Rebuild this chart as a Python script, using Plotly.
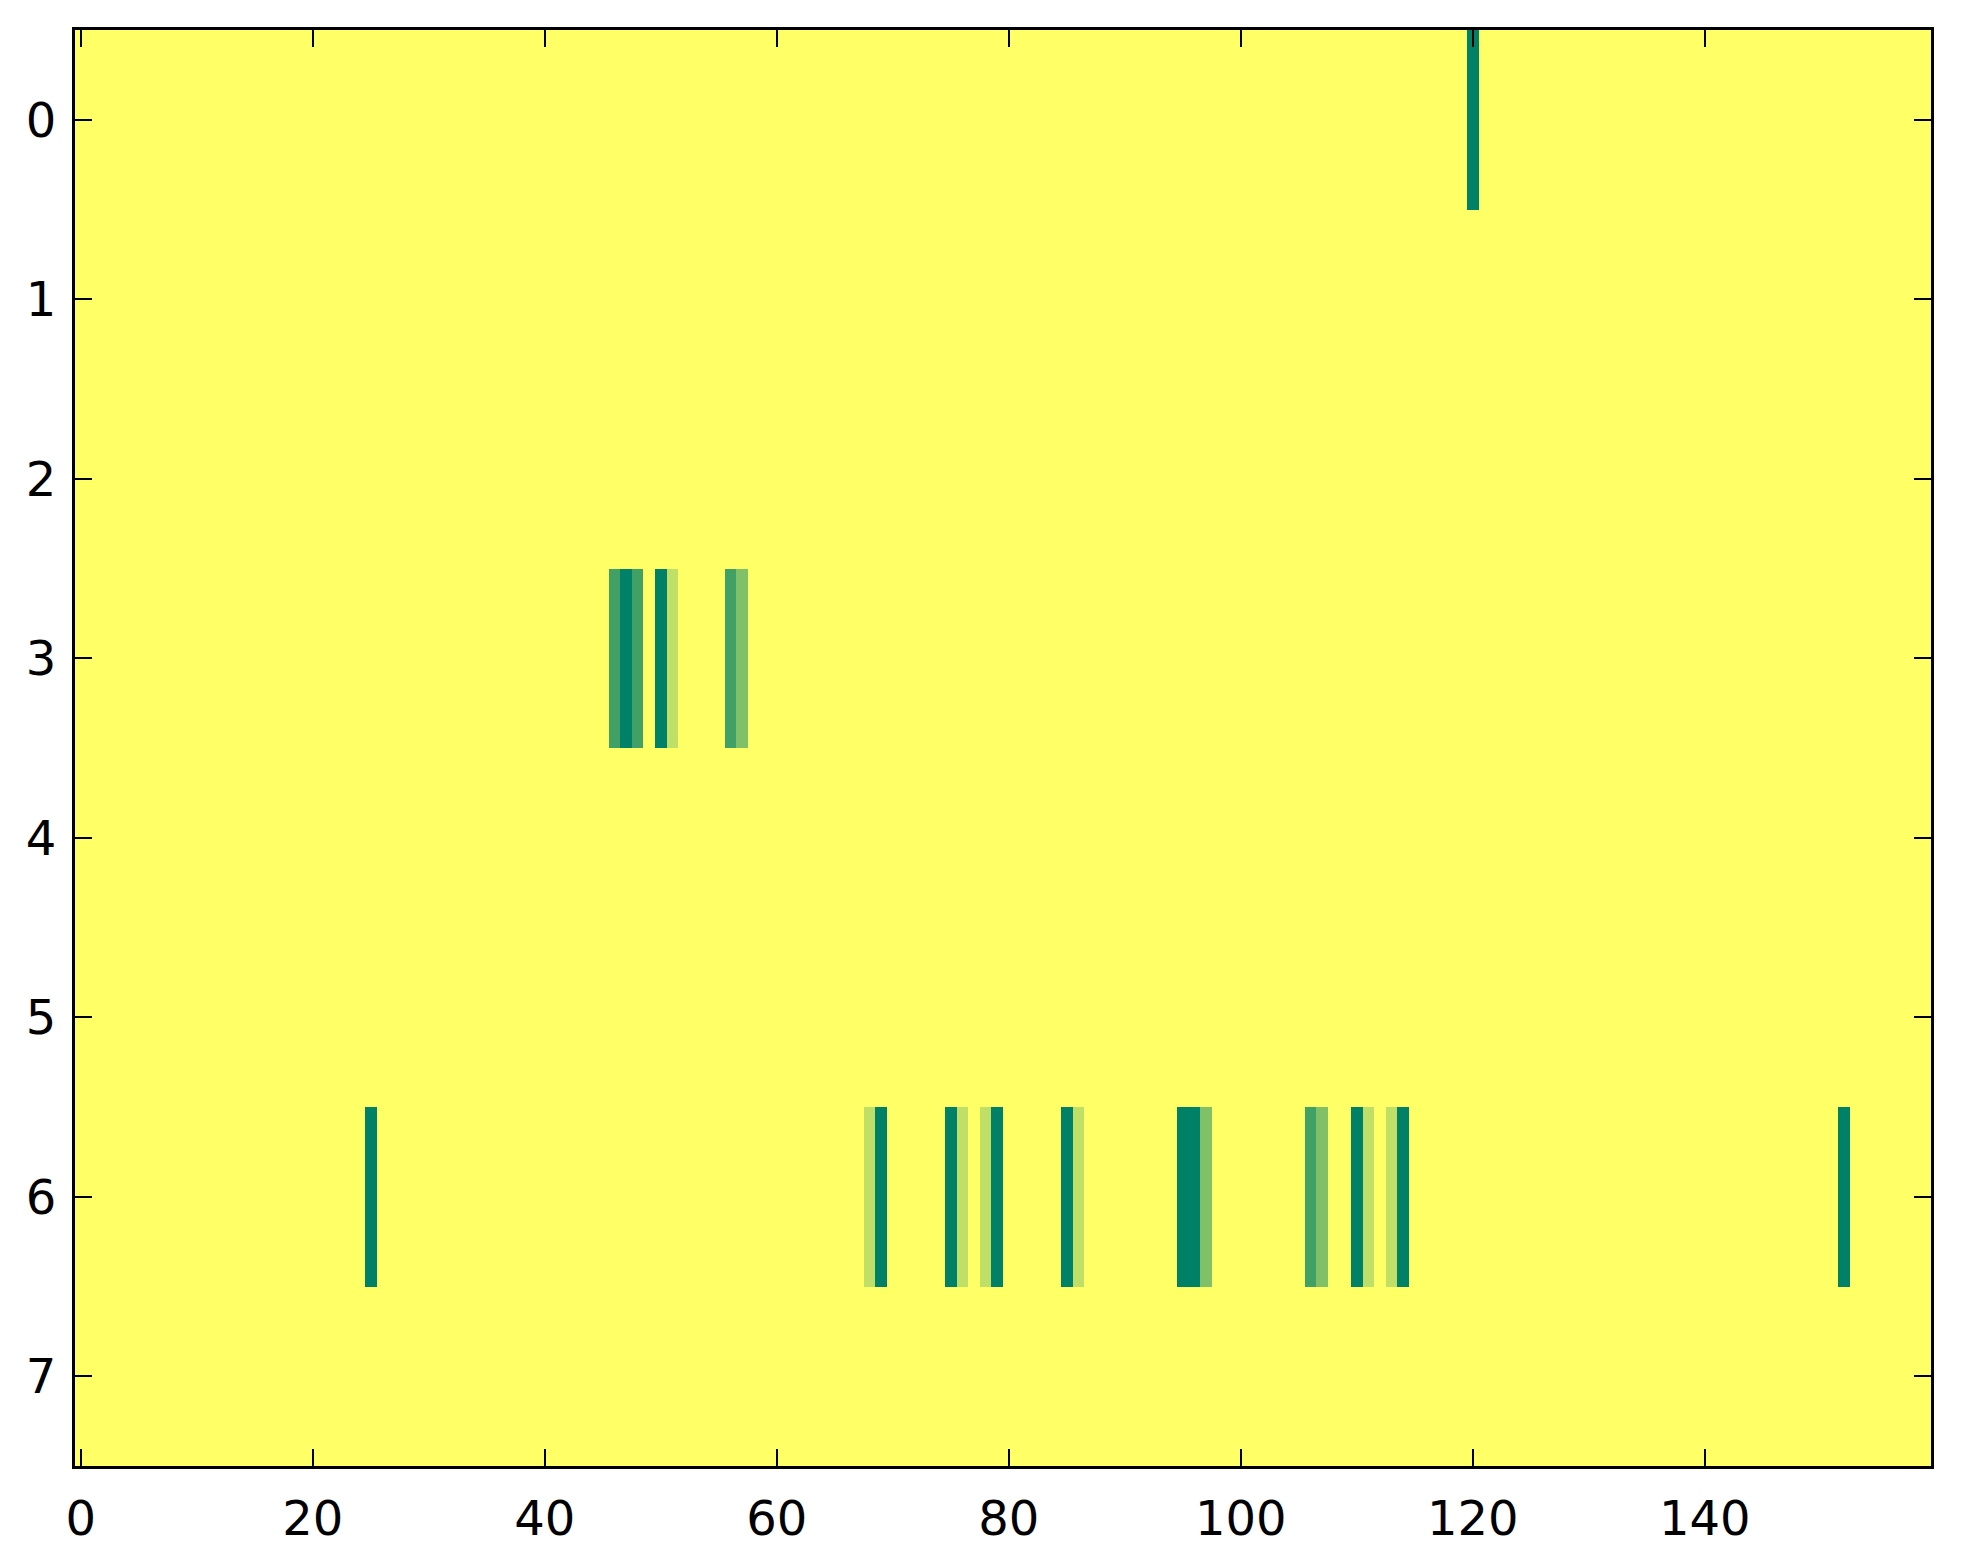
import numpy as np
import plotly.graph_objects as go

# grid size (rows x columns)
n_rows = 8
n_cols = 160

# non-zero cells per row: column index -> level (0..4)
row0_cols = [120]
row0_vals = [4]

row3_cols = [46, 47, 48, 50, 51, 56, 57]
row3_vals = [3, 4, 3, 4, 1, 3, 2]

row6_cols = [25, 68, 69, 75, 76, 78, 79, 85, 86, 95, 96, 97,
             106, 107, 110, 111, 113, 114, 152]
row6_vals = [4, 1, 4, 4, 1, 1, 4, 4, 1, 4, 4, 2,
             3, 2, 4, 1, 1, 4, 4]

x_ticks = [0, 20, 40, 60, 80, 100, 120, 140]
y_ticks = [0, 1, 2, 3, 4, 5, 6, 7]

z = np.zeros((n_rows, n_cols))
for r, cols, vals in [(0, row0_cols, row0_vals),
                      (3, row3_cols, row3_vals),
                      (6, row6_cols, row6_vals)]:
    for c, v in zip(cols, vals):
        z[r, c] = v

# matplotlib "summer_r"
summer_r = [[0.0, "rgb(255,255,102)"], [1.0, "rgb(0,128,102)"]]

fig = go.Figure()
fig.add_trace(
    go.Heatmap(
        z=z,
        x=np.arange(n_cols),
        y=np.arange(n_rows),
        colorscale=summer_r,
        zmin=0,
        zmax=4,
        showscale=False,
    )
)

axis_style = dict(
    showline=True,
    linecolor="black",
    linewidth=3,
    mirror="ticks",
    ticks="inside",
    ticklen=17,
    tickwidth=2,
    tickcolor="black",
    showgrid=False,
    zeroline=False,
    tickfont=dict(family="DejaVu Sans", size=48, color="black"),
)

fig.update_xaxes(range=[-0.5, n_cols - 0.5], tickvals=x_ticks,
                 ticklabelstandoff=8, **axis_style)
fig.update_yaxes(range=[n_rows - 0.5, -0.5], tickvals=y_ticks,
                 ticklabelstandoff=6, **axis_style)

fig.update_layout(
    width=1963,
    height=1564,
    margin=dict(l=67, r=40, t=22, b=106),
    plot_bgcolor="white",
    paper_bgcolor="white",
)

fig.write_html("out.html")
